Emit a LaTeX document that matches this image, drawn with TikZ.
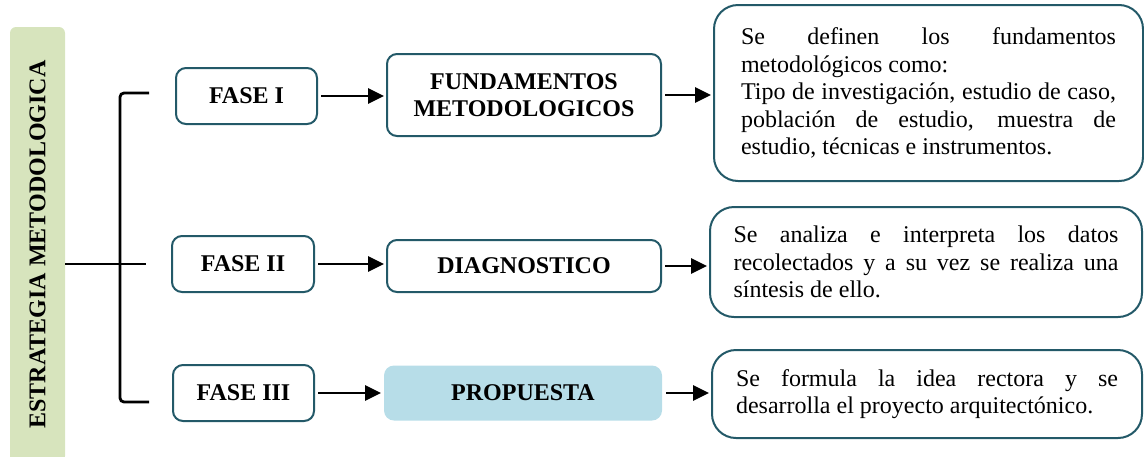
\documentclass[tikz,border=0pt]{standalone}
\usepackage{fontspec}
\setmainfont{Liberation Serif}
\usepackage{tikz}
\usetikzlibrary{arrows.meta}
\definecolor{borde}{RGB}{35,89,104}
\definecolor{verde}{RGB}{215,228,189}
\definecolor{celeste}{RGB}{183,221,232}
\newcommand*\letra{\fontsize{12}{13.75}\selectfont\hyphenpenalty=10000\relax}

\begin{document}
\begin{tikzpicture}[x=0.5pt, y=-0.5pt,
	linea/.style={line width=1.4pt},
	fase/.style={draw=borde, line width=1pt, rounded corners=5pt, font=\letra\bfseries, align=center, minimum height=28pt},
	desc/.style={draw=borde, line width=1pt, rounded corners=12pt, font=\letra, align=justify},
	flecha/.style={-{Triangle[length=8pt,width=7.5pt]}, line width=1.4pt, shorten <=1.5pt, shorten >=1pt}]
		\useasboundingbox (0,0) rectangle (1144,456);
		% Barra lateral
		\node[rotate=90, fill=verde, rounded corners=3pt, minimum width=217.5pt, minimum height=27.5pt, font=\letra\bfseries] (estr) at (37.5,244.5) {ESTRATEGIA METODOLOGICA};
		% Fases
		\node[fase, minimum width=70.5pt] (f1) at (246.5,96) {FASE I};
		\node[fase, minimum width=71pt] (f2) at (243,264) {FASE II};
		\node[fase, minimum width=70.5pt] (f3) at (243.5,393) {FASE III};
		\node[fase, minimum width=137pt, minimum height=41pt] (fund) at (524,95) {FUNDAMENTOS\\METODOLOGICOS};
		\node[fase, minimum width=137pt, minimum height=26pt] (diag) at (524,266) {DIAGNOSTICO};
		\node[fase, draw=none, fill=celeste, minimum width=139pt, minimum height=27.5pt] (prop) at (523,393) {PROPUESTA};
		% Descripciones
		\node[desc, text width=187.5pt, minimum width=214.5pt, minimum height=88pt] (d1) at (928.5,93) {Se definen los fundamentos\linebreak metodológicos como:\newline Tipo de investigación, estudio de caso,\linebreak población de estudio, muestra de\linebreak estudio, técnicas e instrumentos.};
		\node[desc, text width=192.5pt, minimum width=216pt, minimum height=55pt] (d2) at (926,262) {Se analiza e interpreta los datos\linebreak recolectados y a su vez se realiza una\linebreak síntesis de ello.};
		\node[desc, text width=191pt, minimum width=215pt, minimum height=44pt] (d3) at (927,394) {Se formula la idea rectora y se\linebreak desarrolla el proyecto arquitectónico.};
		% Llave
		\coordinate (lla1) at (149,93);
		\coordinate (lla3) at (149,402);
		\coordinate (medio) at (146,264);
		\draw[linea, rounded corners=2pt] (lla1) -- ++(-29,0) |- (lla3);
		\draw[linea] (estr.south |- medio) -- (medio);
		% Flechas
		\foreach \a/\b in {f1/fund, f2/diag, f3/prop, fund/d1, diag/d2, prop/d3}
			\draw[flecha] (\a.east) -- (\b.west |- \a.east);
	\end{tikzpicture}
\end{document}
